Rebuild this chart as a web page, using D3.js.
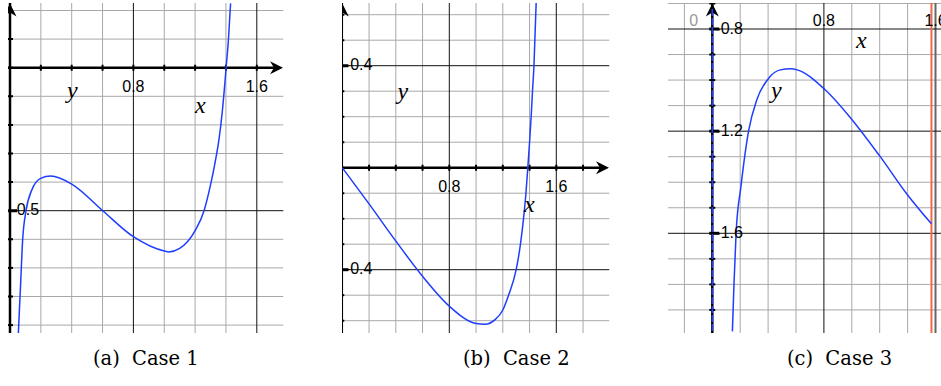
<!DOCTYPE html>
<html>
<head>
<meta charset="utf-8">
<script src="https://cdn.jsdelivr.net/npm/d3@7"></script>
<style>
body { margin: 0; background: #fff; }
svg { display: block; }
.tick-label { font-family: "Liberation Sans", Arimo, Arial, sans-serif; font-size: 16px; }
.var-label { font-family: "Liberation Serif", "Times New Roman", serif; font-style: italic; font-size: 24px; }
.caption { font-family: "DejaVu Serif", serif; font-size: 19.5px; }
</style>
</head>
<body>
<div id="chart"></div>
<script>
var width = 941;
var height = 386;

// curve samples
var case1X = [0.054, 0.069, 0.082, 0.104, 0.141, 0.199, 0.264, 0.4, 0.601, 0.8, 1.0, 1.03, 1.1, 1.2, 1.258, 1.3, 1.33, 1.355, 1.375, 1.392, 1.401, 1.416, 1.43];
var case1Y = [-0.929, -0.754, -0.602, -0.5, -0.428, -0.387, -0.379, -0.407, -0.5, -0.591, -0.641, -0.644, -0.632, -0.57, -0.5, -0.41, -0.33, -0.25, -0.16, -0.06, 0, 0.097, 0.225];

var case2X = [0, 0.2, 0.402, 0.6, 0.8, 1.0, 1.068, 1.14, 1.2, 1.243, 1.3, 1.332, 1.355, 1.373, 1.387, 1.4, 1.412, 1.422, 1.433, 1.45];
var case2Y = [0, -0.142, -0.289, -0.426, -0.543, -0.611, -0.614, -0.597, -0.558, -0.5, -0.4, -0.3, -0.2, -0.1, 0, 0.1, 0.2, 0.3, 0.4, 0.655];

var case3X = [0.144, 0.156, 0.171, 0.206, 0.26, 0.32, 0.411, 0.488, 0.56, 0.608, 0.807, 1.0, 1.2, 1.4, 1.571];
var case3Y = [-1.984, -1.79, -1.595, -1.414, -1.2, -1.076, -0.988, -0.96, -0.956, -0.96, -1.037, -1.154, -1.297, -1.45, -1.563];
var case3Bound = [1.571];

// tick labels
var xTickValues = [0.8, 1.6];
var xTickLabels = ["0.8", "1.6"];
var case1YTicks = [-0.5];
var case1YLabels = ["-0.5"];
var case2YTicks = [0.4, -0.4];
var case2YLabels = ["-0.4", "-0.4"];
var case3YTicks = [-0.8, -1.2, -1.6];
var case3YLabels = ["-0.8", "-1.2", "-1.6"];

var captionTags = ["(a)", "(b)", "(c)"];
var captionNames = ["Case 1", "Case 2", "Case 3"];

var svg = d3.select("#chart").append("svg")
	.attr("width", width)
	.attr("height", height);

function arrowPath(x, y, dir) {
	// tex style arrow head, tip at (x, y)
	if (dir == "right") {
		return "M" + x + "," + y + " L" + (x - 13) + "," + (y - 6.5) + " L" + (x - 9) + "," + y + " L" + (x - 13) + "," + (y + 6.5) + " Z";
	}
	return "M" + x + "," + y + " L" + (x - 6.5) + "," + (y + 13) + " L" + x + "," + (y + 9) + " L" + (x + 6.5) + "," + (y + 13) + " Z";
}

function drawPanel(p, idx) {
	var x = d3.scaleLinear().domain([0, 0.8]).range([p.x0, p.x08]);
	var y = d3.scaleLinear().domain(p.yDom).range(p.yPix);

	svg.append("clipPath")
		.attr("id", "clip" + idx)
		.append("rect")
		.attr("x", p.left)
		.attr("y", p.top)
		.attr("width", p.right - p.left)
		.attr("height", p.bottom - p.top);

	var g = svg.append("g").attr("clip-path", "url(#clip" + idx + ")");

	var xs = [];
	for (var k = Math.ceil(x.invert(p.left) / 0.2); k <= Math.floor(x.invert(p.right) / 0.2); k++) {
		xs.push(+(k * 0.2).toFixed(2));
	}
	var ys = [];
	for (var k = Math.ceil(y.invert(p.bottom) / 0.1); k <= Math.floor(y.invert(p.top) / 0.1); k++) {
		ys.push(+(k * 0.1).toFixed(2));
	}

	function isMajor(list, v) {
		return list.some(function(m) { return Math.abs(m - v) < 1e-6; });
	}

	// minor grid
	g.selectAll("line.gx")
		.data(xs.filter(function(v) { return !isMajor(p.majorX, v) && v != 0; }))
		.enter().append("line")
		.attr("x1", function(d) { return x(d); })
		.attr("x2", function(d) { return x(d); })
		.attr("y1", p.top)
		.attr("y2", p.bottom)
		.attr("stroke", "#a8a8a8")
		.attr("stroke-width", 1);

	g.selectAll("line.gy")
		.data(ys.filter(function(v) { return !isMajor(p.majorY, v) && v != 0; }))
		.enter().append("line")
		.attr("x1", p.left)
		.attr("x2", p.right)
		.attr("y1", function(d) { return y(d); })
		.attr("y2", function(d) { return y(d); })
		.attr("stroke", "#a8a8a8")
		.attr("stroke-width", 1);

	// major grid
	g.selectAll("line.mx")
		.data(p.majorX)
		.enter().append("line")
		.attr("x1", function(d) { return x(d); })
		.attr("x2", function(d) { return x(d); })
		.attr("y1", p.top)
		.attr("y2", p.bottom)
		.attr("stroke", function(d) { return d == 1.6 && idx == 2 ? "#666" : "#111"; })
		.attr("stroke-width", function(d) { return d == 1.6 && idx == 2 ? 2 : 1; });

	g.selectAll("line.my")
		.data(p.majorY)
		.enter().append("line")
		.attr("x1", p.left)
		.attr("x2", p.right)
		.attr("y1", function(d) { return y(d); })
		.attr("y2", function(d) { return y(d); })
		.attr("stroke", "#111")
		.attr("stroke-width", 1);

	// extra boundary line (case 3)
	if (p.bound) {
		g.selectAll("line.bound")
			.data(p.bound)
			.enter().append("line")
			.attr("x1", function(d) { return x(d); })
			.attr("x2", function(d) { return x(d); })
			.attr("y1", p.top)
			.attr("y2", p.bottom)
			.attr("stroke", "#f2664a")
			.attr("stroke-width", 2);
	}

	// y axis
	var ax = x(0);
	g.append("line")
		.attr("x1", ax).attr("x2", ax)
		.attr("y1", p.top).attr("y2", p.bottom)
		.attr("stroke", "#000")
		.attr("stroke-width", p.yAxisWidth);
	g.selectAll("line.ty")
		.data(ys)
		.enter().append("line")
		.attr("x1", ax + p.yTick[0])
		.attr("x2", function(d) { return isMajor(p.yTicks, d) ? ax + p.yTick[1] + 4 : ax + p.yTick[1]; })
		.attr("y1", function(d) { return y(d); })
		.attr("y2", function(d) { return y(d); })
		.attr("stroke", "#000")
		.attr("stroke-width", function(d) { return isMajor(p.yTicks, d) ? 3 : 2; });
	g.append("path")
		.attr("d", arrowPath(ax, p.top + 0.5, "up"))
		.attr("fill", "#000");

	// x axis (only when y=0 is visible)
	if (y(0) > p.top && y(0) < p.bottom) {
		var ay = y(0);
		g.append("line")
			.attr("x1", p.left).attr("x2", p.right - 5)
			.attr("y1", ay).attr("y2", ay)
			.attr("stroke", "#000")
			.attr("stroke-width", 2.5);
		g.selectAll("line.tx")
			.data(xs.filter(function(v) { return v > 0; }))
			.enter().append("line")
			.attr("x1", function(d) { return x(d); })
			.attr("x2", function(d) { return x(d); })
			.attr("y1", ay - 3)
			.attr("y2", ay + 3)
			.attr("stroke", "#000")
			.attr("stroke-width", 2);
		g.append("path")
			.attr("d", arrowPath(p.right - 0.5, ay, "right"))
			.attr("fill", "#000");
	}

	// blue dashed overlay on the axis (case 3)
	if (p.axisOverlay) {
		g.append("line")
			.attr("x1", ax).attr("x2", ax)
			.attr("y1", p.top + 6).attr("y2", p.bottom)
			.attr("stroke", "#1f3dff")
			.attr("stroke-width", 1.6)
			.attr("stroke-dasharray", "7,2");
	}

	// curve
	var pts = p.cx.map(function(v, i) { return [v, p.cy[i]]; });
	var line = d3.line()
		.x(function(d) { return x(d[0]); })
		.y(function(d) { return y(d[1]); })
		.curve(d3.curveMonotoneX);
	g.append("path")
		.datum(pts)
		.attr("d", line)
		.attr("fill", "none")
		.attr("stroke", "#1f3dff")
		.attr("stroke-width", 1.5);

	// x tick labels
	g.selectAll("text.xl")
		.data(xTickValues)
		.enter().append("text")
		.attr("class", "tick-label")
		.attr("x", function(d) { return x(d); })
		.attr("y", p.xLabelY != null ? p.xLabelY : y(0) + 24.5)
		.attr("text-anchor", "middle")
		.text(function(d, i) { return xTickLabels[i]; });

	if (p.zeroLabel) {
		g.append("text")
			.attr("class", "tick-label")
			.attr("x", x(0) - 18.5)
			.attr("y", p.xLabelY)
			.attr("text-anchor", "middle")
			.attr("fill", "#999")
			.text("0");
	}

	// y tick labels
	g.selectAll("text.yl")
		.data(p.yTicks)
		.enter().append("text")
		.attr("class", "tick-label")
		.attr("x", ax + p.yLabelDx)
		.attr("y", function(d) { return y(d) + 4.5; })
		.text(function(d, i) { return p.yLabels[i]; });

	// variable names
	g.append("text")
		.attr("class", "var-label")
		.attr("x", p.yName[0])
		.attr("y", p.yName[1])
		.text("y");
	g.append("text")
		.attr("class", "var-label")
		.attr("x", p.xName[0])
		.attr("y", p.xName[1])
		.text("x");

	// caption
	var cap = svg.append("text")
		.attr("class", "caption")
		.attr("x", p.capX)
		.attr("y", 365);
	cap.append("tspan").text(captionTags[idx] + " ");
	cap.append("tspan").attr("dx", 6).text(captionNames[idx]);
}

var panels = [
	{
		left: 8, right: 283.5, top: 3, bottom: 333,
		x0: 10, x08: 133.4, yDom: [0, -0.5], yPix: [67.7, 210.7],
		majorX: [0.8, 1.6], majorY: [-0.5],
		yAxisWidth: 2.5, yTick: [-2.5, 3],
		cx: case1X, cy: case1Y,
		yTicks: case1YTicks, yLabels: case1YLabels, yLabelDx: 1.5,
		yName: [67, 98], xName: [195, 112.5], capX: 93
	},
	{
		left: 342, right: 609.5, top: 3, bottom: 333,
		x0: 342.3, x08: 449.3, yDom: [0, 0.4], yPix: [167.7, 65.7],
		majorX: [0.8, 1.6], majorY: [0.4, -0.4],
		yAxisWidth: 1.5, yTick: [0.5, 2],
		cx: case2X, cy: case2Y,
		yTicks: case2YTicks, yLabels: case2YLabels, yLabelDx: 2.5,
		yName: [397.5, 98.5], xName: [524, 211.5], capX: 463
	},
	{
		left: 668, right: 941, top: 3, bottom: 333,
		x0: 712.3, x08: 823.9, yDom: [-0.8, -1.6], yPix: [29, 233.3],
		majorX: [0.8, 1.6], majorY: [-0.8, -1.2, -1.6],
		yAxisWidth: 2.5, yTick: [-3, 3],
		cx: case3X, cy: case3Y, bound: case3Bound, axisOverlay: true,
		xLabelY: 26, zeroLabel: true,
		yTicks: case3YTicks, yLabels: case3YLabels, yLabelDx: 3,
		yName: [771, 98], xName: [856, 47.5], capX: 787
	}
];

panels.forEach(function(p, i) {
	drawPanel(p, i);
});
</script>
</body>
</html>
